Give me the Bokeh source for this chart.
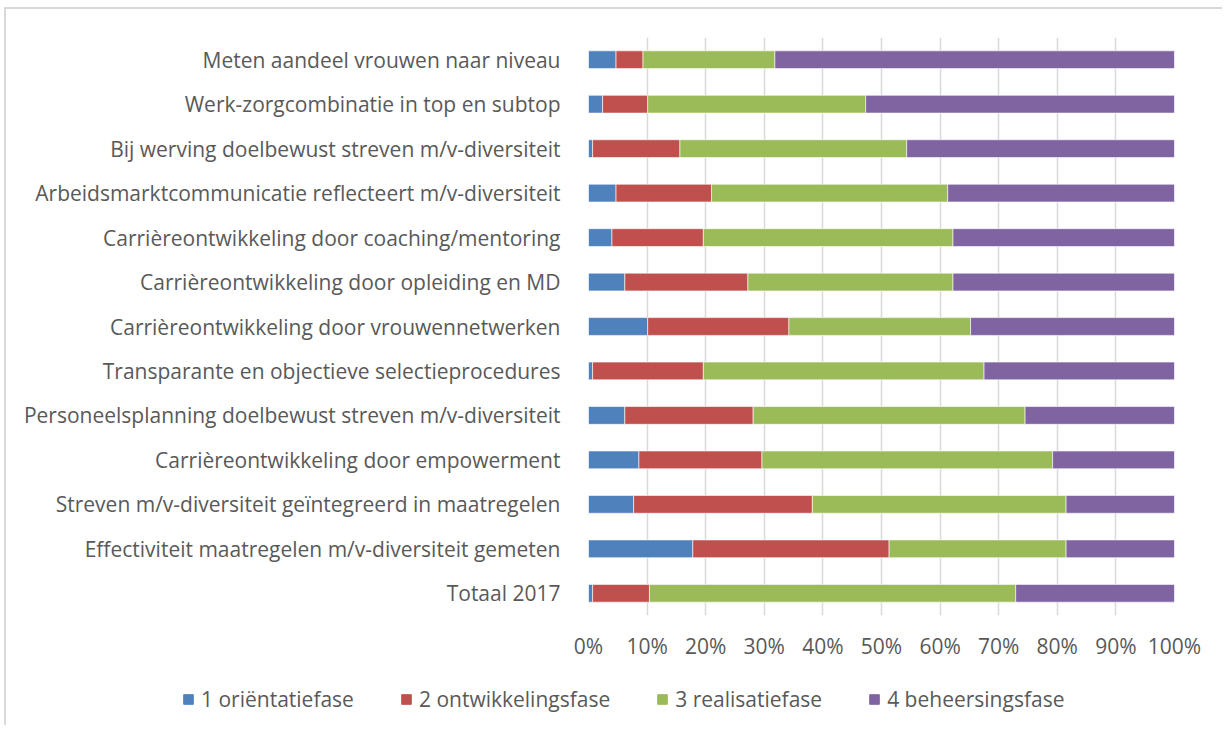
from bokeh.plotting import figure
from bokeh.layouts import column
from bokeh.models import FactorRange, Range1d, FixedTicker, PrintfTickFormatter, Legend, LegendItem
from bokeh.embed import file_html
from bokeh.resources import INLINE

categories = [
    "Meten aandeel vrouwen naar niveau",
    "Werk-zorgcombinatie in top en subtop",
    "Bij werving doelbewust streven m/v-diversiteit",
    "Arbeidsmarktcommunicatie reflecteert m/v-diversiteit",
    "Carrièreontwikkeling door coaching/mentoring",
    "Carrièreontwikkeling door opleiding en MD",
    "Carrièreontwikkeling door vrouwennetwerken",
    "Transparante en objectieve selectieprocedures",
    "Personeelsplanning doelbewust streven m/v-diversiteit",
    "Carrièreontwikkeling door empowerment",
    "Streven m/v-diversiteit geïntegreerd in maatregelen",
    "Effectiviteit maatregelen m/v-diversiteit gemeten",
    "Totaal 2017",
]
fase1 = [4.7, 2.4, 0.7, 4.7, 4.0, 6.2, 10.1, 0.7, 6.2, 8.6, 7.7, 17.8, 0.7]
fase2 = [4.6, 7.7, 14.9, 16.3, 15.6, 21.0, 24.1, 18.9, 21.9, 21.0, 30.5, 33.5, 9.7]
fase3 = [22.5, 37.2, 38.7, 40.3, 42.6, 35.0, 31.0, 47.9, 46.4, 49.6, 43.3, 30.2, 62.5]
fase4 = [68.2, 52.7, 45.7, 38.7, 37.8, 37.8, 34.8, 32.5, 25.5, 20.8, 18.5, 18.5, 27.1]
series_names = ["1 oriëntatiefase", "2 ontwikkelingsfase", "3 realisatiefase", "4 beheersingsfase"]
series_keys = ["f1", "f2", "f3", "f4"]
colors = ["#4F81BD", "#C0504D", "#9BBB59", "#8064A2"]
x_ticks = [0, 10, 20, 30, 40, 50, 60, 70, 80, 90, 100]

FONT = "Open Sans"
FS = "21px"
TXT = "#595959"

data = dict(cat=categories, f1=fase1, f2=fase2, f3=fase3, f4=fase4)

p = figure(
    width=1216, height=656,
    y_range=FactorRange(factors=list(reversed(categories))),
    x_range=Range1d(0, 100),
    output_backend="svg", toolbar_location=None,
    min_border_left=582, min_border_right=48, min_border_top=28, min_border_bottom=50,
)
p.frame_align = False

p.hbar_stack(series_keys, y="cat", height=0.4, source=data, color=colors,
             line_color="white", line_width=0.6)

p.outline_line_color = None
p.ygrid.grid_line_color = None
p.xgrid.grid_line_color = "#d9d9d9"
p.xgrid.grid_line_width = 1.5

p.xaxis.ticker = FixedTicker(ticks=x_ticks)
p.xaxis.formatter = PrintfTickFormatter(format="%d%%")
for ax in (p.xaxis, p.yaxis):
    ax.axis_line_color = None
    ax.major_tick_line_color = None
    ax.minor_tick_line_color = None
    ax.major_label_text_font = FONT
    ax.major_label_text_font_size = FS
    ax.major_label_text_color = TXT
p.yaxis.major_label_standoff = 22
p.xaxis.major_label_standoff = 10

# legend strip: same stacked series (hidden), so the legend can span the full chart width
lg = figure(width=1216, height=60,
            y_range=FactorRange(factors=list(reversed(categories))), x_range=Range1d(0, 100),
            x_axis_type=None, y_axis_type=None, output_backend="svg", toolbar_location=None,
            min_border=0)
lg.frame_align = False
lg.outline_line_color = None
lg.grid.grid_line_color = None
leg_renderers = lg.hbar_stack(series_keys, y="cat", height=0.4, source=data, color=colors)
for r in leg_renderers:
    r.visible = False

legend = Legend(
    items=[LegendItem(label=n, renderers=[r]) for n, r in zip(series_names, leg_renderers)],
    orientation="horizontal", location=(176, 12),
    glyph_width=12, glyph_height=12, label_standoff=7, spacing=46,
    padding=0, margin=0, border_line_color=None, background_fill_alpha=0,
    inactive_fill_alpha=0,
    label_text_font=FONT, label_text_font_size=FS, label_text_color=TXT,
)
lg.add_layout(legend, "center")

layout = column(p, lg, spacing=0)
layout.styles = {"border-left": "2px solid #d9d9d9", "border-top": "2px solid #d9d9d9",
                 "margin-left": "4px", "margin-top": "7px"}
open("out.html", "w").write(file_html(layout, INLINE))
